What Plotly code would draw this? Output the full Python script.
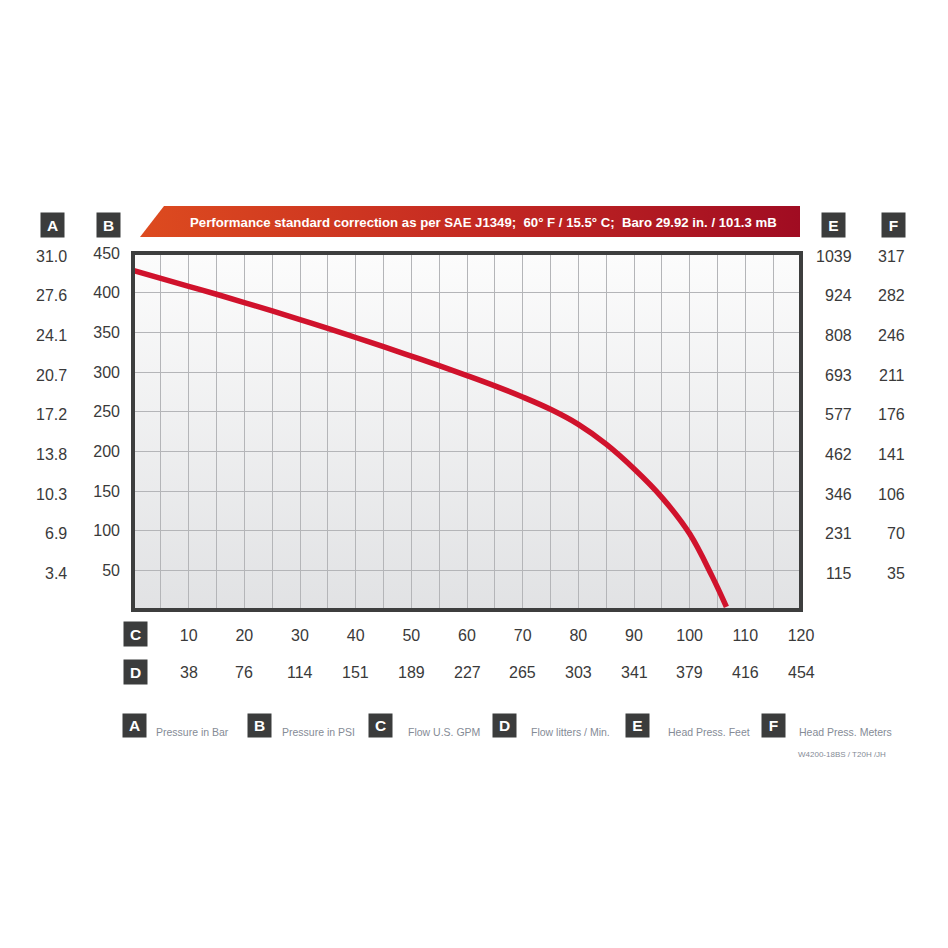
import base64
import plotly.graph_objects as go

# ---------------- data ----------------
flow_gpm = [0, 5, 10, 15, 20, 25, 30, 35, 40, 45, 50, 55, 60, 65, 70, 75, 80, 85, 90, 95, 100, 104, 106.6]
pressure_psi = [428, 418, 408, 398, 387.5, 377, 366, 355, 343.5, 332, 320, 308, 295.5, 282.5, 268.5, 253, 234, 209, 178, 142, 96, 43, 4]

psi_ticks = [50, 100, 150, 200, 250, 300, 350, 400, 450]
bar_labels = ["3.4", "6.9", "10.3", "13.8", "17.2", "20.7", "24.1", "27.6", "31.0"]
feet_labels = ["115", "231", "346", "462", "577", "693", "808", "924", "1039"]
meter_labels = ["35", "70", "106", "141", "176", "211", "246", "282", "317"]

gpm_ticks = [10, 20, 30, 40, 50, 60, 70, 80, 90, 100, 110, 120]
lpm_labels = ["38", "76", "114", "151", "189", "227", "265", "303", "341", "379", "416", "454"]

legend_letters = ["A", "B", "C", "D", "E", "F"]
legend_texts = ["Pressure in Bar", "Pressure in PSI", "Flow U.S. GPM", "Flow litters / Min.",
                "Head Press. Feet", "Head Press. Meters"]

banner_text = "Performance standard correction as per SAE J1349;  60° F / 15.5° C;  Baro 29.92 in. / 101.3 mB"
model_text = "W4200-18BS / T20H /JH"

# ---------------- layout geometry (page pixels) ----------------
OFF = 8                      # default page body margin
W = H = 948 - OFF
L, R, T, B = 133, 801, 253, 610  # plot area in page px


def px_x(px):
    return (px - L) / (R - L)


def px_y(py):
    return (B - py) / (B - T)


FONT = "Liberation Sans, Arial, sans-serif"
NUM_COLOR = "#3a3a3a"
BOX_COLOR = "#3b3c3c"
LEG_COLOR = "#858b96"
NUM_SIZE = 16


def svg_uri(svg):
    return "data:image/svg+xml;base64," + base64.b64encode(svg.encode("utf-8")).decode("ascii")


bg_svg = ('<svg xmlns="http://www.w3.org/2000/svg" width="100" height="100" viewBox="0 0 100 100" '
          'preserveAspectRatio="none"><defs><linearGradient id="g" x1="0" y1="0" x2="0" y2="1">'
          '<stop offset="0" stop-color="#fcfcfc"/><stop offset="1" stop-color="#e1e2e4"/>'
          '</linearGradient></defs><rect x="0" y="0" width="100" height="100" fill="url(#g)"/></svg>')

banner_svg = ('<svg xmlns="http://www.w3.org/2000/svg" width="660" height="31" viewBox="0 0 660 31" '
              'preserveAspectRatio="none"><defs><linearGradient id="b" x1="0" y1="0" x2="1" y2="0">'
              '<stop offset="0" stop-color="#dd4b1f"/><stop offset="0.5" stop-color="#c52a22"/>'
              '<stop offset="1" stop-color="#a00c22"/></linearGradient></defs>'
              '<polygon points="0,31 24,0 660,0 660,31" fill="url(#b)"/></svg>')

fig = go.Figure()

fig.add_trace(go.Scatter(
    x=flow_gpm, y=pressure_psi, mode="lines",
    line=dict(color="#d0122c", width=5.5, shape="spline", smoothing=1.0),
    hoverinfo="skip", showlegend=False,
))

annotations = []


def box(letter, cx, cy, h=24):
    return dict(
        x=px_x(cx), y=px_y(cy), xref="paper", yref="paper", text=f"<b>{letter}</b>",
        showarrow=False, font=dict(family=FONT, size=15.5, color="white"),
        bgcolor=BOX_COLOR, width=23, height=h, borderpad=0, xanchor="center", yanchor="middle",
    )


# header boxes A, B, E, F
for letter, cx in [("A", 52.5), ("B", 108), ("E", 833.5), ("F", 893.5)]:
    annotations.append(box(letter, cx, 225))
# C, D boxes
for letter, cy in [("C", 633.5), ("D", 671.5)]:
    annotations.append(box(letter, 135.5, cy))

# column A (bar) and columns E, F
for v, a, e, f in zip(psi_ticks, bar_labels, feet_labels, meter_labels):
    for txt, xr in [(a, 69), (e, 854), (f, 907)]:
        annotations.append(dict(x=px_x(xr), y=v, xref="paper", yref="y", text=txt, showarrow=False,
                                xanchor="right", yanchor="middle", yshift=-3,
                                font=dict(family=FONT, size=NUM_SIZE, color=NUM_COLOR)))

# row D (liters/min)
for g, d in zip(gpm_ticks, lpm_labels):
    annotations.append(dict(x=g, y=px_y(672), xref="x", yref="paper", text=d, showarrow=False,
                            xanchor="center", yanchor="middle",
                            font=dict(family=FONT, size=NUM_SIZE, color=NUM_COLOR)))

# banner text
annotations.append(dict(x=px_x(484), y=px_y(222), xref="paper", yref="paper", text=f"<b>{banner_text}</b>",
                        showarrow=False, xanchor="center", yanchor="middle",
                        font=dict(family=FONT, size=13.2, color="white")))

# legend row
leg_boxes = [134.5, 259.5, 380.5, 504, 637.5, 773.5]
leg_text_x = [154, 280, 406, 529, 666, 797]
for letter, bx, tx, txt in zip(legend_letters, leg_boxes, leg_text_x, legend_texts):
    annotations.append(box(letter, bx, 725, h=23))
    annotations.append(dict(x=px_x(tx), y=px_y(732), xref="paper", yref="paper", text=txt, showarrow=False,
                            xanchor="left", yanchor="middle",
                            font=dict(family=FONT, size=10.5, color=LEG_COLOR)))

annotations.append(dict(x=px_x(888), y=px_y(754), xref="paper", yref="paper", text=model_text, showarrow=False,
                        xanchor="right", yanchor="middle",
                        font=dict(family=FONT, size=8, color=LEG_COLOR)))

fig.update_layout(
    width=W, height=H,
    margin=dict(l=L - OFF, r=W - (R - OFF), t=T - OFF, b=H - (B - OFF), pad=0),
    paper_bgcolor="white", plot_bgcolor="#eeeeef",
    showlegend=False,
    annotations=annotations,
    images=[
        dict(source=svg_uri(bg_svg), xref="x", yref="y", x=0, y=450, sizex=120, sizey=450,
             sizing="stretch", layer="below", xanchor="left", yanchor="top"),
        dict(source=svg_uri(banner_svg), xref="paper", yref="paper", x=px_x(140), y=px_y(206),
             sizex=px_x(800) - px_x(140), sizey=px_y(206) - px_y(237),
             sizing="stretch", layer="above", xanchor="left", yanchor="top"),
    ],
    shapes=[dict(type="rect", xref="paper", yref="paper", x0=0, x1=1, y0=0, y1=1,
                 line=dict(color="#3d3e3e", width=4), layer="above")],
    xaxis=dict(range=[0, 120], tickvals=gpm_ticks, ticktext=[str(v) for v in gpm_ticks],
               showgrid=True, gridcolor="#b4b5b8", gridwidth=1, zeroline=False, showline=False,
               ticks="", ticklabelstandoff=14,
               tickfont=dict(family=FONT, size=NUM_SIZE, color=NUM_COLOR),
               minor=dict(tickvals=[v - 5 for v in gpm_ticks], showgrid=True, gridcolor="#b4b5b8", gridwidth=1),
               fixedrange=True),
    yaxis=dict(range=[0, 450], tickvals=psi_ticks, ticktext=[str(v) for v in psi_ticks],
               showgrid=True, gridcolor="#b4b5b8", gridwidth=1, zeroline=False, showline=False,
               ticks="", ticklabelstandoff=12,
               tickfont=dict(family=FONT, size=NUM_SIZE, color=NUM_COLOR),
               fixedrange=True),
)

fig.write_html("out.html")
